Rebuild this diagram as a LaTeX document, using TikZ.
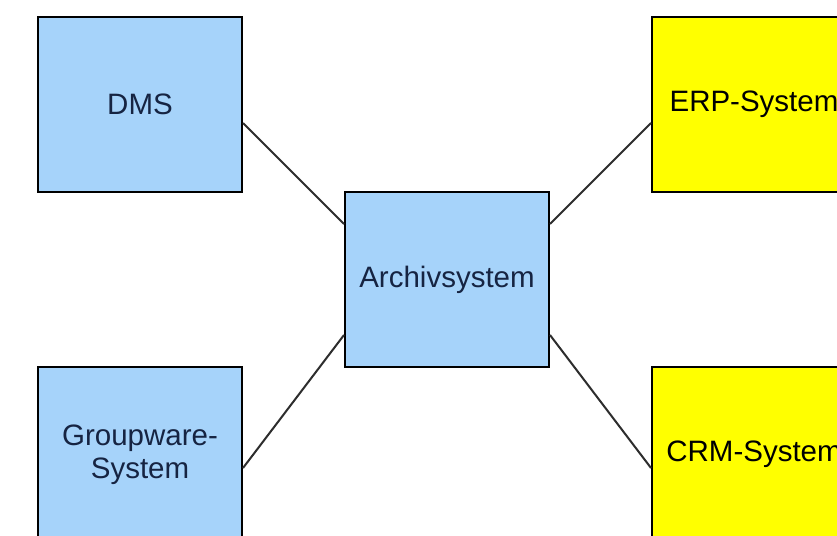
\documentclass[tikz,border=0pt]{standalone}
\usepackage{fontspec}
\setmainfont{Liberation Sans}
\definecolor{boxblue}{RGB}{166,211,250}
\definecolor{boxyellow}{RGB}{255,255,0}
\definecolor{navytext}{RGB}{22,36,66}
\definecolor{linkgray}{RGB}{45,45,45}
\begin{document}
\begin{tikzpicture}[x=1pt,y=-1pt,
  sysbox/.style={draw=black,line width=2pt,minimum width=204pt,minimum height=175pt,
    inner sep=0pt,align=center,font=\fontsize{29.5}{33}\selectfont},
  bluebox/.style={sysbox,fill=boxblue,text=navytext},
  yellowbox/.style={sysbox,fill=boxyellow,text=black},
  link/.style={draw=linkgray,line width=2pt}]
\useasboundingbox (0,0) rectangle (837,535);
\clip (0,0) rectangle (837,535);
\fill[white] (0,0) rectangle (837,535);

\node[bluebox]   (dms)  at (140,104.5) {DMS};
\node[bluebox]   (arch) at (447,279.5) {Archivsystem};
\node[yellowbox] (erp)  at (754,104.5) {ERP-System};
\node[bluebox]   (gw)   at (140,454.5) {Groupware-\\System};
\node[yellowbox] (crm)  at (754,454.5) {CRM-System};

\draw[link] ([yshift=-18.5pt]dms.east) -- ([yshift=55.5pt]arch.west);
\draw[link] ([yshift=55.5pt]arch.east) -- ([yshift=-18.5pt]erp.west);
\draw[link] ([yshift=-13.5pt]gw.east) -- ([yshift=-55.5pt]arch.west);
\draw[link] ([yshift=-55.5pt]arch.east) -- ([yshift=-13.5pt]crm.west);
\end{tikzpicture}
\end{document}
